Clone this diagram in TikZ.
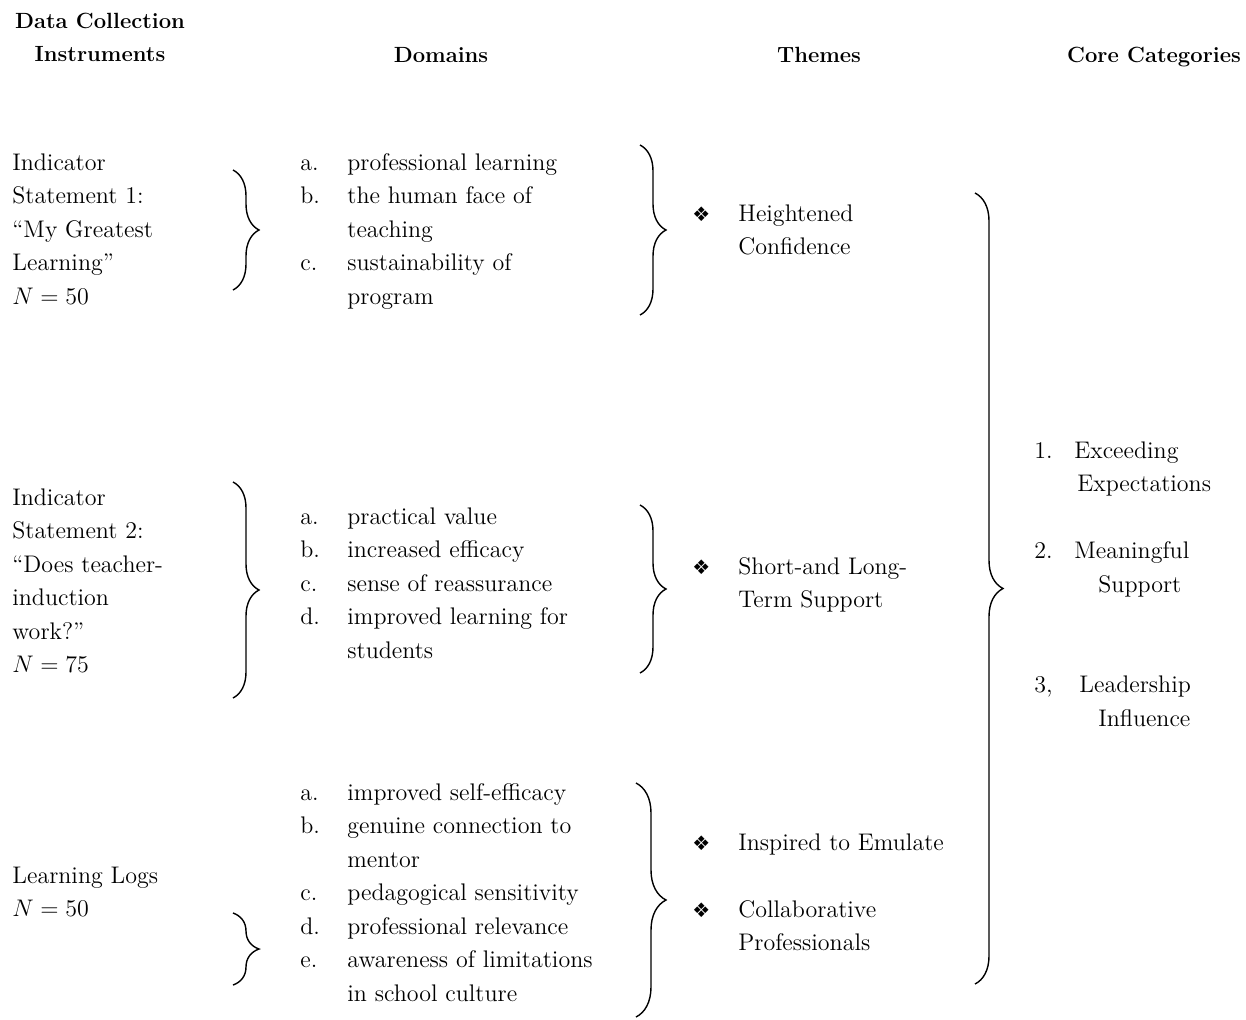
\documentclass[tikz,border=0pt]{standalone}
\usepackage{fontspec}
\usetikzlibrary{decorations.pathreplacing}
\newfontfamily\dingfont{DejaVu Sans}
\newcommand{\dia}{{\dingfont\fontsize{10pt}{16.75pt}\selectfont ❖}}

\begin{document}
\begin{tikzpicture}[x=0.5pt,y=-0.5pt,
    txt/.style={anchor=north west,inner sep=0pt,font={\fontsize{12pt}{16.75pt}\selectfont}},
    head/.style={anchor=north,inner sep=0pt,font={\fontsize{11pt}{16.75pt}\selectfont\bfseries}},
    curly/.style={decorate,decoration={brace,amplitude=#1},line width=0.7pt},
    curly/.default=13pt]
  \useasboundingbox (0,0) rectangle (1246,1019);

  %headings
  \node[head] (hinst) at (100,4.5) {\begin{tabular}{@{}c@{}}Data Collection\\Instruments\end{tabular}};
  \node[head] (hdom) at (441,38.5) {\begin{tabular}{@{}c@{}}Domains\end{tabular}};
  \node[head] (hthm) at (819,38.5) {\begin{tabular}{@{}c@{}}Themes\end{tabular}};
  \node[head] (hcore) at (1154,38.5) {\begin{tabular}{@{}c@{}}Core Categories\end{tabular}};

  %instruments
  \node[txt] (ind1) at (12,146.5) {\begin{tabular}{@{}l@{}}Indicator\\Statement 1:\\“My Greatest\\Learning”\\$N = 50$\end{tabular}};
  \node[txt] (ind2) at (12,481.5) {\begin{tabular}{@{}l@{}}Indicator\\Statement 2:\\“Does teacher-\\induction\\work?”\\$N = 75$\end{tabular}};
  \node[txt] (ind3) at (12,859.5) {\begin{tabular}{@{}l@{}}Learning Logs\\$N = 50$\end{tabular}};

  %domains
  \node[txt] (dom1) at (300,146.5) {\begin{tabular}{@{}p{23.5pt}@{}l@{}}
    a. & professional learning\\
    b. & the human face of\\
       & teaching\\
    c. & sustainability of\\
       & program
  \end{tabular}};
  \node[txt] (dom2) at (300,500.5) {\begin{tabular}{@{}p{23.5pt}@{}l@{}}
    a. & practical value\\
    b. & increased efficacy\\
    c. & sense of reassurance\\
    d. & improved learning for\\
       & students
  \end{tabular}};
  \node[txt] (dom3) at (300,776.5) {\begin{tabular}{@{}p{23.5pt}@{}l@{}}
    a. & improved self-efficacy\\
    b. & genuine connection to\\
       & mentor\\
    c. & pedagogical sensitivity\\
    d. & professional relevance\\
    e. & awareness of limitations\\
       & in school culture
  \end{tabular}};

  %themes
  \node[txt] (thm1) at (692,197.5) {\begin{tabular}{@{}p{23pt}@{}l@{}}
    \dia & Heightened\\
         & Confidence
  \end{tabular}};
  \node[txt] (thm2) at (692,550.5) {\begin{tabular}{@{}p{23pt}@{}l@{}}
    \dia & Short-and Long-\\
         & Term Support
  \end{tabular}};
  \node[txt] (thm3) at (692,826.5) {\begin{tabular}{@{}p{23pt}@{}l@{}}
    \dia & Inspired to Emulate\\
         & \\
    \dia & Collaborative\\
         & Professionals
  \end{tabular}};

  %core categories
  \node[txt] (core) at (1034,434.5) {\begin{tabular}{@{}p{20pt}@{}l@{}}
    1. & Exceeding\\
       & \hspace{1.5pt}Expectations\\
       & \\
    2. & Meaningful\\
       & \hspace{12pt}Support\\
       & \\
       & \\
    3, & \hspace{2.5pt}Leadership\\
       & \hspace{12pt}Influence
  \end{tabular}};

  %braces
  \coordinate (b1t) at (233,170);  \coordinate (b1b) at (233,290);
  \coordinate (b2t) at (640,145);  \coordinate (b2b) at (640,315);
  \coordinate (b3t) at (233,482);  \coordinate (b3b) at (233,698);
  \coordinate (b4t) at (640,505);  \coordinate (b4b) at (640,673);
  \coordinate (b5t) at (233,913);  \coordinate (b5b) at (233,985);
  \coordinate (b6t) at (636,783);  \coordinate (b6b) at (636,1017);
  \coordinate (b7t) at (975,193);  \coordinate (b7b) at (975,984);
  \foreach \b in {1,...,5}
    \draw[curly] (b\b t) -- (b\b b);
  \draw[curly=15pt] (b6t) -- (b6b);
  \draw[curly=14pt] (b7t) -- (b7b);
\end{tikzpicture}
\end{document}
